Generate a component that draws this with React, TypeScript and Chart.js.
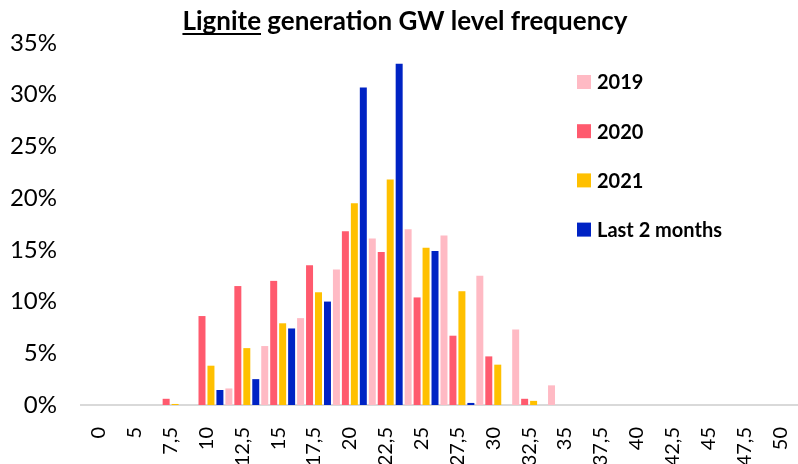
import React, { useEffect, useRef } from "react";
import { Chart, registerables } from "chart.js";

Chart.register(...registerables);

const categories = ["0", "5", "7,5", "10", "12,5", "15", "17,5", "20", "22,5", "25", "27,5", "30", "32,5", "35", "37,5", "40", "42,5", "45", "47,5", "50"];
const seriesNames = ["2019", "2020", "2021", "Last 2 months"];
const values2019 = [0, 0, 0, 0, 1.6, 5.7, 8.4, 13.1, 16.1, 17.0, 16.4, 12.5, 7.3, 1.9, 0, 0, 0, 0, 0, 0];
const values2020 = [0, 0, 0.6, 8.6, 11.5, 12.0, 13.5, 16.8, 14.8, 10.4, 6.7, 4.7, 0.6, 0, 0, 0, 0, 0, 0, 0];
const values2021 = [0, 0, 0.1, 3.8, 5.5, 7.9, 10.9, 19.5, 21.8, 15.2, 11.0, 3.9, 0.4, 0, 0, 0, 0, 0, 0, 0];
const valuesLast2 = [0, 0, 0, 1.45, 2.5, 7.4, 10.0, 30.7, 33.0, 14.9, 0.2, 0, 0, 0, 0, 0, 0, 0, 0, 0];
const yTicks = [0, 5, 10, 15, 20, 25, 30, 35];
const colors = ["#FFBAC4", "#FF5A6E", "#FFC000", "#0023C4"];

const FONT = "Lato, 'Noto Sans', sans-serif";

const titlePlugin = {
  id: "customTitle",
  afterDraw(chart: any) {
    const ctx = chart.ctx;
    ctx.save();
    ctx.font = `bold 26px ${FONT}`;
    ctx.fillStyle = "#000";
    ctx.textBaseline = "alphabetic";
    const part1 = "Lignite";
    const part2 = " generation GW level frequency";
    const w1 = ctx.measureText(part1).width;
    const w2 = ctx.measureText(part2).width;
    const cx = 405;
    const x0 = cx - (w1 + w2) / 2;
    const y = 30;
    ctx.textAlign = "left";
    ctx.fillText(part1, x0, y);
    ctx.fillText(part2, x0 + w1, y);
    ctx.fillRect(x0, y + 3, w1, 2);
    ctx.restore();
  },
};

const legendPlugin = {
  id: "customLegend",
  afterDraw(chart: any) {
    const ctx = chart.ctx;
    ctx.save();
    ctx.font = `bold 20px ${FONT}`;
    ctx.textBaseline = "middle";
    ctx.textAlign = "left";
    chart.data.datasets.forEach((ds: any, i: number) => {
      const y = 82 + i * 49.2;
      ctx.fillStyle = ds.backgroundColor;
      ctx.fillRect(577, y - 7, 14, 14);
      ctx.fillStyle = "#000";
      ctx.fillText(ds.label, 597, y + 1);
    });
    ctx.restore();
  },
};

export default function App() {
  const ref = useRef<HTMLCanvasElement>(null);
  useEffect(() => {
    const seriesValues = [values2019, values2020, values2021, valuesLast2];
    const chart = new Chart(ref.current!, {
      type: "bar",
      data: {
        labels: categories,
        datasets: seriesNames.map((name, i) => ({
          label: name,
          data: seriesValues[i],
          backgroundColor: colors[i],
          borderWidth: 0,
          barPercentage: 0.78,
          categoryPercentage: 1.0,
        })),
      },
      options: {
        animation: false,
        responsive: false,
        maintainAspectRatio: false,
        layout: { padding: { top: 43, left: 10, right: 0, bottom: 0 } },
        plugins: {
          legend: { display: false },
          title: { display: false },
          tooltip: { enabled: false },
        },
        scales: {
          x: {
            afterFit: (scale: any) => {
              scale.height = 59;
              scale.paddingLeft = 0;
              scale.paddingRight = 0;
            },
            grid: { display: false },
            border: { display: true, color: "#D9D9D9", width: 2 },
            ticks: {
              color: "#000",
              font: { family: FONT, size: 20 },
              maxRotation: 90,
              minRotation: 90,
              autoSkip: false,
              padding: 14,
            },
          },
          y: {
            min: 0,
            max: 35,
            afterFit: (scale: any) => {
              scale.width = 71;
            },
            afterBuildTicks: (axis: any) => {
              axis.ticks = yTicks.map((v) => ({ value: v }));
            },
            grid: { display: false },
            border: { display: false },
            ticks: {
              color: "#000",
              font: { family: FONT, size: 24 },
              padding: 16,
              callback: (v: any) => `${v}%`,
            },
          },
        },
      },
      plugins: [titlePlugin, legendPlugin],
    });
    return () => chart.destroy();
  }, []);
  return (
    <div style={{ position: "fixed", left: 0, top: 0, width: 798, height: 464, background: "#fff" }}>
      <canvas ref={ref} width={798} height={464} style={{ width: 798, height: 464 }} />
    </div>
  );
}
